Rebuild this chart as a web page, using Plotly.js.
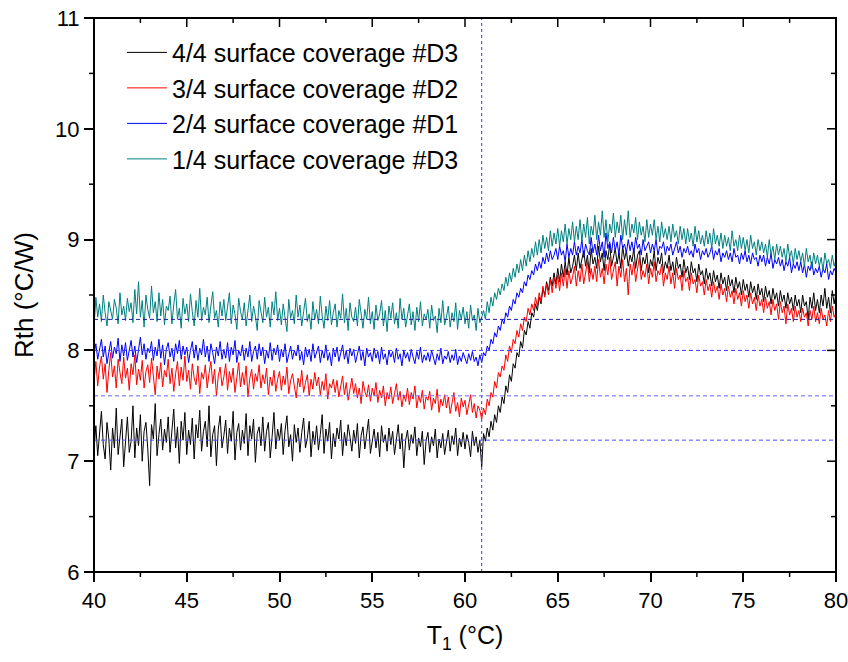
<!DOCTYPE html>
<html>
<head>
<meta charset="utf-8">
<script src="https://cdn.plot.ly/plotly-3.0.1.min.js"></script>
<style>html,body{margin:0;padding:0;background:#fff;}#chart{width:848px;height:662px;}</style>
</head>
<body>
<div id="chart"></div>
<script>
// Temperature axis: samples start at 40 °C, one every 0.1 °C, up to 80 °C
var tStart = 40;
var tStep = 0.1;

var seriesNames = ["4/4 surface coverage #D3", "3/4 surface coverage #D2", "2/4 surface coverage #D1", "1/4 surface coverage #D3"];
var seriesColors = ["#000000", "#ff0000", "#0000ff", "#008080"];

// Rth (°C/W), 4/4 surface coverage #D3
var rthD3full = [
7.10,7.32,7.05,7.28,7.45,7.15,7.02,7.35,7.20,6.92,
7.30,7.12,7.48,7.06,7.25,7.38,6.95,7.22,7.40,7.08,
7.18,7.50,7.03,7.30,7.14,7.42,7.00,7.27,7.35,7.11,
6.78,7.33,7.20,7.52,7.05,7.24,7.38,7.10,7.29,7.17,
7.40,7.08,7.26,7.47,7.12,7.31,6.98,7.36,7.19,7.44,
7.06,7.28,7.15,7.39,7.02,7.33,7.21,7.46,7.09,7.27,
7.36,7.13,7.50,7.04,7.24,7.32,6.96,7.29,7.41,7.12,
7.23,7.37,7.07,7.30,7.18,7.45,7.01,7.26,7.34,7.10,
7.28,7.16,7.43,7.05,7.32,7.20,7.38,6.99,7.25,7.31,
7.14,7.40,7.09,7.27,7.35,7.03,7.22,7.44,7.11,7.29,
7.19,7.34,7.06,7.28,7.41,7.13,7.24,7.00,7.33,7.17,
7.30,7.08,7.26,7.39,7.12,7.21,7.36,7.04,7.27,7.15,
7.32,7.10,7.24,7.42,7.07,7.29,7.18,7.35,7.02,7.25,
7.13,7.30,7.20,7.37,7.05,7.26,7.14,7.33,7.22,7.09,
7.28,7.16,7.34,7.03,7.23,7.31,7.11,7.25,7.38,7.07,
7.20,7.29,7.12,7.26,7.04,7.32,7.17,7.24,7.09,7.30,
7.15,7.27,7.06,7.22,7.33,7.11,7.25,6.94,7.19,7.28,
7.10,7.24,7.16,7.31,7.05,7.21,7.13,7.27,6.97,7.18,
7.26,7.08,7.22,7.14,7.29,7.03,7.20,7.12,7.25,7.06,
7.19,7.28,7.09,7.23,7.15,7.30,7.05,7.21,7.13,7.26,
7.11,7.24,7.17,7.04,7.27,7.14,7.22,7.08,7.19,6.95,
7.25,7.18,7.30,7.22,7.36,7.28,7.42,7.35,7.50,7.44,
7.58,7.52,7.68,7.62,7.78,7.72,7.88,7.84,7.98,7.94,
8.08,8.02,8.18,8.14,8.26,8.20,8.34,8.30,8.42,8.36,
8.48,8.42,8.56,8.50,8.62,8.54,8.66,8.58,8.70,8.60,
8.74,8.62,8.78,8.66,8.80,8.68,8.84,8.70,8.76,8.86,
8.72,8.88,8.74,8.82,8.90,8.76,8.86,8.70,8.92,8.78,
8.84,8.74,8.94,8.80,8.88,8.72,8.90,8.82,8.96,8.76,
8.86,8.92,8.78,8.88,8.74,8.94,8.82,8.90,8.76,8.86,
8.80,8.92,8.74,8.86,8.90,8.72,8.84,8.78,8.88,8.70,
8.82,8.76,8.90,8.72,8.84,8.78,8.88,8.70,8.80,8.74,
8.86,8.72,8.80,8.68,8.84,8.74,8.78,8.66,8.82,8.70,
8.76,8.64,8.80,8.70,8.74,8.62,8.78,8.68,8.72,8.60,
8.74,8.64,8.70,8.58,8.72,8.62,8.68,8.56,8.70,8.60,
8.66,8.54,8.68,8.58,8.64,8.52,8.66,8.56,8.62,8.50,
8.64,8.54,8.60,8.48,8.62,8.52,8.58,8.46,8.60,8.50,
8.56,8.44,8.58,8.48,8.54,8.42,8.56,8.46,8.52,8.40,
8.54,8.44,8.50,8.38,8.52,8.42,8.48,8.36,8.50,8.40,
8.46,8.34,8.50,8.40,8.44,8.28,8.48,8.38,8.52,8.36,
8.46,8.34,8.50,8.40,8.56,8.38,8.48,8.34,8.54,8.42,
8.52];

// Rth (°C/W), 3/4 surface coverage #D2
var rthD2 = [
7.72,7.90,7.68,7.85,7.95,7.74,7.88,7.62,7.82,7.98,
7.76,7.86,7.66,7.92,7.80,7.70,7.94,7.75,7.84,7.64,
7.88,7.78,7.96,7.69,7.83,7.73,7.91,7.66,7.81,7.87,
7.71,7.93,7.77,7.60,7.86,7.74,7.89,7.67,7.82,7.76,
7.92,7.70,7.84,7.63,7.79,7.90,7.68,7.85,7.73,7.95,
7.72,7.82,7.65,7.88,7.75,7.69,7.86,7.61,7.80,7.74,
7.87,7.66,7.79,7.90,7.70,7.83,7.59,7.77,7.85,7.68,
7.76,7.88,7.64,7.81,7.71,7.84,7.62,7.78,7.89,7.67,
7.80,7.69,7.86,7.58,7.75,7.83,7.65,7.79,7.72,7.87,
7.66,7.78,7.70,7.84,7.60,7.76,7.68,7.82,7.63,7.74,
7.81,7.64,7.77,7.69,7.85,7.61,7.73,7.79,7.66,7.57,
7.75,7.67,7.82,7.62,7.71,7.78,7.59,7.74,7.65,7.80,
7.68,7.76,7.60,7.72,7.64,7.79,7.56,7.70,7.66,7.74,
7.62,7.73,7.58,7.69,7.77,7.60,7.71,7.55,7.67,7.75,
7.61,7.70,7.57,7.66,7.52,7.72,7.63,7.58,7.69,7.54,
7.66,7.59,7.71,7.53,7.64,7.57,7.68,7.50,7.62,7.56,
7.67,7.52,7.61,7.70,7.55,7.63,7.49,7.60,7.54,7.66,
7.51,7.62,7.56,7.68,7.48,7.59,7.53,7.64,7.47,7.58,
7.55,7.63,7.46,7.57,7.52,7.65,7.44,7.56,7.50,7.60,
7.48,7.58,7.43,7.54,7.62,7.45,7.53,7.40,7.57,7.49,
7.55,7.42,7.51,7.60,7.44,7.52,7.39,7.50,7.46,7.38,
7.48,7.42,7.56,7.50,7.62,7.58,7.72,7.66,7.80,7.76,
7.86,7.82,7.96,7.90,8.04,7.98,8.10,8.06,8.18,8.12,
8.24,8.18,8.30,8.26,8.38,8.32,8.42,8.36,8.48,8.40,
8.52,8.44,8.58,8.48,8.60,8.50,8.64,8.52,8.66,8.56,
8.68,8.54,8.70,8.58,8.74,8.56,8.72,8.60,8.66,8.76,
8.58,8.72,8.62,8.78,8.60,8.70,8.80,8.62,8.74,8.64,
8.76,8.62,8.82,8.66,8.74,8.60,8.78,8.68,8.84,8.64,
8.72,8.80,8.58,8.76,8.66,8.82,8.62,8.74,8.50,8.78,
8.68,8.80,8.62,8.74,8.84,8.64,8.72,8.66,8.78,8.60,
8.74,8.66,8.80,8.62,8.72,8.68,8.78,8.58,8.70,8.64,
8.76,8.60,8.70,8.56,8.74,8.64,8.68,8.54,8.72,8.62,
8.66,8.54,8.70,8.60,8.64,8.52,8.68,8.58,8.62,8.50,
8.64,8.54,8.60,8.48,8.62,8.52,8.58,8.46,8.60,8.50,
8.56,8.44,8.58,8.48,8.54,8.42,8.56,8.46,8.52,8.40,
8.54,8.44,8.50,8.38,8.52,8.42,8.48,8.36,8.50,8.40,
8.46,8.34,8.48,8.38,8.44,8.32,8.46,8.36,8.42,8.28,
8.44,8.34,8.40,8.24,8.42,8.32,8.38,8.26,8.40,8.30,
8.36,8.26,8.38,8.30,8.34,8.22,8.36,8.28,8.40,8.26,
8.34,8.24,8.38,8.28,8.32,8.22,8.36,8.26,8.40,8.30,
8.34];

// Rth (°C/W), 2/4 surface coverage #D1
var rthD1 = [
7.96,8.06,7.92,8.02,8.10,7.94,8.04,7.88,8.00,8.08,
7.93,8.03,7.97,8.11,7.90,8.05,7.95,8.07,7.91,8.01,
8.09,7.94,8.04,7.89,8.00,8.12,7.96,8.06,7.92,8.02,
7.98,8.08,7.91,8.03,7.95,8.10,7.93,8.05,7.87,8.01,
8.07,7.94,8.02,7.90,8.06,7.97,8.09,7.92,8.04,7.96,
8.03,7.89,8.00,8.08,7.93,8.05,7.91,8.02,7.96,8.10,
7.94,8.04,7.90,8.06,7.98,7.88,8.03,7.95,8.08,7.92,
8.01,7.93,8.07,7.90,8.03,7.96,8.09,7.89,8.00,7.95,
8.05,7.91,8.02,7.94,8.08,7.90,7.99,8.04,7.92,8.06,
7.95,8.03,7.88,8.00,7.93,8.07,7.91,8.02,7.96,8.05,
7.90,8.01,7.94,8.06,7.89,7.98,8.04,7.92,8.00,7.95,
8.05,7.91,7.99,7.87,8.03,7.94,8.01,7.90,8.06,7.93,
7.98,8.04,7.89,8.00,7.93,8.05,7.91,7.98,7.86,8.02,
7.94,8.03,7.90,7.99,8.05,7.92,8.00,7.88,8.02,7.95,
8.01,7.89,7.97,8.04,7.91,7.99,7.86,8.02,7.94,7.98,
7.90,8.02,7.93,7.99,7.88,8.03,7.92,7.97,7.87,8.00,
7.94,7.99,7.89,8.02,7.92,7.97,7.86,8.00,7.93,7.98,
7.90,8.01,7.94,7.88,7.99,7.92,8.03,7.89,7.96,7.91,
7.98,7.90,8.00,7.93,7.87,7.97,7.91,8.02,7.88,7.95,
7.92,7.99,7.89,7.96,7.91,8.01,7.87,7.95,7.90,7.98,
7.93,7.88,7.97,7.91,7.99,7.90,7.94,7.86,7.96,7.89,
7.98,7.95,8.04,8.00,8.10,8.06,8.16,8.12,8.22,8.18,
8.28,8.24,8.34,8.30,8.40,8.36,8.46,8.42,8.52,8.48,
8.56,8.52,8.62,8.58,8.68,8.64,8.72,8.68,8.78,8.72,
8.80,8.74,8.84,8.78,8.88,8.80,8.90,8.82,8.86,8.92,
8.82,8.94,8.86,8.90,8.80,8.96,8.84,8.92,8.86,8.98,
8.86,8.94,8.88,9.00,8.84,8.96,8.90,8.86,9.02,8.88,
8.96,8.86,9.04,8.90,8.98,8.84,9.06,8.92,8.98,8.88,
9.02,8.90,8.98,8.86,9.04,8.92,8.96,8.88,9.00,8.90,
8.98,8.88,9.02,8.92,8.96,8.86,9.00,8.90,8.94,8.98,
8.88,8.96,8.90,9.00,8.86,8.94,8.92,8.98,8.86,8.94,
8.90,8.96,8.86,8.92,8.98,8.88,8.94,8.84,8.92,8.88,
8.94,8.86,8.90,8.84,8.96,8.88,8.92,8.82,8.90,8.86,
8.92,8.84,8.88,8.94,8.82,8.90,8.86,8.92,8.80,8.88,
8.84,8.90,8.82,8.88,8.80,8.92,8.84,8.86,8.78,8.88,
8.82,8.90,8.80,8.86,8.78,8.88,8.82,8.84,8.76,8.86,
8.80,8.86,8.76,8.84,8.78,8.88,8.74,8.82,8.78,8.84,
8.76,8.82,8.72,8.80,8.76,8.84,8.70,8.78,8.74,8.80,
8.72,8.80,8.70,8.78,8.66,8.76,8.72,8.80,8.68,8.74,
8.70,8.76,8.66,8.74,8.70,8.78,8.64,8.72,8.68,8.74,
8.70];

// Rth (°C/W), 1/4 surface coverage #D3
var rthD3quarter = [
8.20,8.48,8.30,8.42,8.26,8.50,8.34,8.22,8.44,8.36,
8.28,8.46,8.38,8.24,8.52,8.32,8.40,8.27,8.47,8.35,
8.43,8.25,8.55,8.33,8.62,8.30,8.45,8.21,8.50,8.37,
8.29,8.58,8.34,8.44,8.26,8.52,8.31,8.46,8.23,8.40,
8.36,8.49,8.24,8.41,8.55,8.28,8.38,8.20,8.47,8.33,
8.42,8.26,8.51,8.35,8.22,8.45,8.30,8.56,8.27,8.39,
8.32,8.48,8.25,8.40,8.53,8.29,8.36,8.21,8.44,8.31,
8.46,8.27,8.38,8.52,8.24,8.41,8.33,8.19,8.47,8.35,
8.28,8.43,8.22,8.37,8.50,8.26,8.40,8.31,8.18,8.45,
8.34,8.25,8.48,8.30,8.39,8.21,8.44,8.32,8.53,8.27,
8.38,8.23,8.42,8.31,8.17,8.46,8.29,8.36,8.24,8.50,
8.30,8.41,8.22,8.35,8.47,8.26,8.33,8.19,8.44,8.28,
8.37,8.24,8.49,8.31,8.20,8.40,8.27,8.45,8.23,8.34,
8.42,8.21,8.36,8.29,8.51,8.25,8.38,8.18,8.43,8.30,
8.26,8.39,8.22,8.46,8.31,8.20,8.37,8.28,8.48,8.24,
8.35,8.19,8.41,8.27,8.33,8.45,8.22,8.36,8.17,8.40,
8.29,8.43,8.24,8.34,8.20,8.47,8.28,8.38,8.21,8.32,
8.42,8.23,8.35,8.18,8.39,8.26,8.44,8.22,8.33,8.28,
8.37,8.20,8.41,8.27,8.31,8.16,8.38,8.25,8.45,8.23,
8.30,8.40,8.21,8.34,8.26,8.43,8.19,8.36,8.28,8.39,
8.24,8.35,8.20,8.41,8.27,8.32,8.18,8.38,8.25,8.30,
8.36,8.28,8.44,8.34,8.48,8.40,8.52,8.46,8.56,8.50,
8.60,8.54,8.66,8.58,8.70,8.62,8.74,8.66,8.78,8.70,
8.82,8.72,8.86,8.76,8.90,8.80,8.92,8.84,8.98,8.86,
9.00,8.88,9.04,8.92,9.02,8.90,9.08,8.94,9.06,8.96,
9.10,8.94,9.08,8.98,9.14,8.96,9.10,9.00,9.16,8.98,
9.12,9.00,9.18,8.98,9.14,9.02,9.20,8.96,9.12,9.04,
9.22,9.00,9.16,9.04,9.26,9.02,9.18,8.98,9.14,9.06,
9.24,9.02,9.16,9.06,9.22,9.00,9.18,9.04,9.26,9.02,
9.14,9.06,9.20,9.00,9.16,9.04,9.12,8.98,9.18,9.02,
9.14,9.04,9.18,9.00,9.12,8.98,9.16,9.02,9.10,9.00,
9.12,8.98,9.14,9.02,9.08,8.96,9.12,9.00,9.10,8.96,
9.10,8.98,9.06,8.94,9.12,8.98,9.08,8.96,9.04,8.94,
9.08,8.96,9.06,8.92,9.10,8.96,9.04,8.94,9.06,8.92,
9.04,8.94,9.02,8.90,9.08,8.94,9.00,8.90,9.04,8.92,
9.02,8.90,9.00,8.88,9.04,8.92,8.98,8.86,9.00,8.90,
8.98,8.88,8.96,8.84,9.00,8.86,8.94,8.82,8.96,8.86,
8.94,8.84,8.92,8.80,8.96,8.84,8.90,8.78,8.92,8.82,
8.90,8.80,8.88,8.76,8.92,8.80,8.86,8.74,8.88,8.78,
8.86,8.76,8.84,8.72,8.88,8.78,8.82,8.74,8.86,8.76,
8.82];

// Reference guides
var transitionT = 60.9;                        // vertical dashed line (°C)
var baselineLevels = [8.28, 8.0, 7.59, 7.19];  // horizontal dashed lines (°C/W)
var baselineColors = ["#1a1a9a", "#3a3aff", "#6666ff", "#4d4dff"];

// Axis ranges and tick positions
var xRange = [40, 80];
var yRange = [6, 11];
var xTicks = [40, 45, 50, 55, 60, 65, 70, 75, 80];
var xMinorTicks = [42.5, 47.5, 52.5, 57.5, 62.5, 67.5, 72.5, 77.5];
var yTicks = [6, 7, 8, 9, 10, 11];
var yMinorTicks = [6.5, 7.5, 8.5, 9.5, 10.5];

var W = 848, H = 662;
var M = {l: 94, r: 12, t: 18, b: 90};
var plotW = W - M.l - M.r, plotH = H - M.t - M.b;

var allSeries = [rthD3full, rthD2, rthD1, rthD3quarter];
var traces = allSeries.map(function (vals, i) {
  return {
    type: "scatter", mode: "lines",
    x0: tStart, dx: tStep, y: vals,
    name: seriesNames[i],
    line: {color: seriesColors[i], width: 1}
  };
});

var shapes = [{
  type: "line", xref: "x", yref: "paper", x0: transitionT, x1: transitionT, y0: 0, y1: 1,
  line: {color: "#3333ff", width: 1, dash: "3px,3px"}
}];
baselineLevels.forEach(function (lv, i) {
  shapes.push({
    type: "line", xref: "paper", yref: "y", x0: 0, x1: 1, y0: lv, y1: lv,
    line: {color: baselineColors[i], width: 1, dash: "4px,3px"}
  });
});
// plot frame
shapes.push({type: "rect", xref: "paper", yref: "paper", x0: 0, x1: 1, y0: 0, y1: 1,
             line: {color: "#000", width: 2}, fillcolor: "rgba(0,0,0,0)"});
// tick marks drawn on the frame: inward on top/right, minor outward on bottom/left
function fx(v) { return (v - xRange[0]) / (xRange[1] - xRange[0]); }
function fy(v) { return (v - yRange[0]) / (yRange[1] - yRange[0]); }
function vTick(v, yA, yB) {
  return {type: "line", xref: "paper", yref: "paper", x0: fx(v), x1: fx(v), y0: yA, y1: yB,
          line: {color: "#000", width: 1.5}};
}
function hTick(v, xA, xB) {
  return {type: "line", xref: "paper", yref: "paper", y0: fy(v), y1: fy(v), x0: xA, x1: xB,
          line: {color: "#000", width: 1.5}};
}
xTicks.forEach(function (v) { shapes.push(vTick(v, 1, 1 - 9 / plotH)); });
xMinorTicks.forEach(function (v) {
  shapes.push(vTick(v, 1, 1 - 5 / plotH));
  shapes.push(vTick(v, 0, -5 / plotH));
});
yTicks.forEach(function (v) { shapes.push(hTick(v, 1, 1 - 9 / plotW)); });
yMinorTicks.forEach(function (v) {
  shapes.push(hTick(v, 1, 1 - 5 / plotW));
  shapes.push(hTick(v, 0, -5 / plotW));
});

var fam = "Liberation Sans, Arial, sans-serif";

var layout = {
  width: W, height: H,
  margin: M,
  paper_bgcolor: "#fff", plot_bgcolor: "#fff",
  font: {family: fam, color: "#000"},
  showlegend: true,
  legend: {
    x: 0.0377, y: 0.979, xanchor: "left", yanchor: "top",
    bgcolor: "rgba(0,0,0,0)", borderwidth: 0,
    font: {family: fam, size: 25, color: "#000"},
    tracegroupgap: 0, itemwidth: 40, traceorder: "normal"
  },
  xaxis: {
    range: xRange, tickmode: "linear", tick0: 40, dtick: 5,
    showline: false, showgrid: false, zeroline: false,
    ticks: "outside", tickcolor: "#000", tickwidth: 1.5, ticklen: 9,
    ticklabeloverflow: "allow",
    tickfont: {family: fam, size: 22, color: "#000"},
    title: {text: "T<sub>1</sub> (°C)", font: {family: fam, size: 25, color: "#000"}, standoff: 14}
  },
  yaxis: {
    range: yRange, tickmode: "linear", tick0: 6, dtick: 1,
    showline: false, showgrid: false, zeroline: false,
    ticks: "outside", tickcolor: "#000", tickwidth: 1.5, ticklen: 9,
    tickfont: {family: fam, size: 22, color: "#000"},
    title: {text: "Rth (°C/W)", font: {family: fam, size: 26, color: "#000"}, standoff: 14}
  },
  shapes: shapes
};

Plotly.newPlot("chart", traces, layout, {displayModeBar: false});
</script>
</body>
</html>
